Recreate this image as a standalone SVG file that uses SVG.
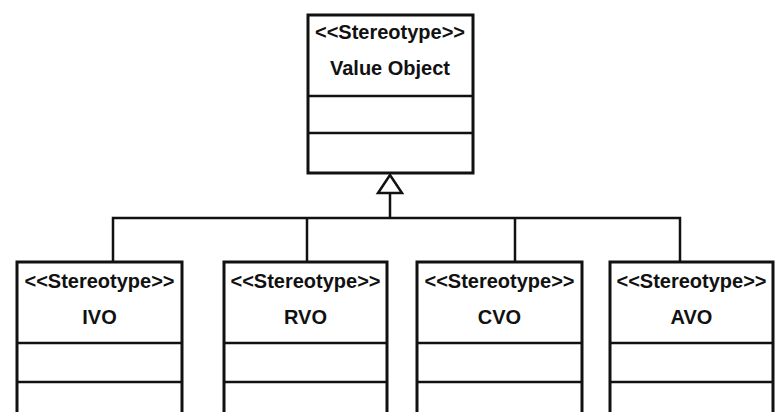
<svg xmlns="http://www.w3.org/2000/svg" width="783" height="412" viewBox="0 0 783 412">
<style>
.box{fill:#fff;stroke:#111;stroke-width:3}
.div{stroke:#111;stroke-width:2.5}
.conn{fill:none;stroke:#111;stroke-width:2.5}
.tri{fill:#fff;stroke:#111;stroke-width:2.5;stroke-linejoin:miter}
text{font-family:"Liberation Sans",Arial,sans-serif;font-weight:bold;font-size:20px;fill:#111;text-anchor:middle}
</style>
<rect width="783" height="412" fill="#fff"/>
<g id="connectors">
<path class="conn" d="M390,193 V218 M113,262 V218 H680 V262 M307,218 V262 M515,218 V262"/>
<polygon class="tri" points="390,175 378,193 402,193"/>
</g>
<g id="value-object">
<rect class="box" x="308" y="15" width="165" height="158"/>
<line class="div" x1="308" y1="96" x2="473" y2="96"/>
<line class="div" x1="308" y1="133" x2="473" y2="133"/>
<text x="390" y="39">&lt;&lt;Stereotype&gt;&gt;</text>
<text x="390" y="75">Value Object</text>
</g>
<g id="ivo">
<rect class="box" x="17" y="262" width="165" height="160"/>
<line class="div" x1="17" y1="343" x2="182" y2="343"/>
<line class="div" x1="17" y1="382" x2="182" y2="382"/>
<text x="99.5" y="288">&lt;&lt;Stereotype&gt;&gt;</text>
<text x="99.5" y="324">IVO</text>
</g>
<g id="rvo">
<rect class="box" x="224" y="262" width="163" height="160"/>
<line class="div" x1="224" y1="343" x2="387" y2="343"/>
<line class="div" x1="224" y1="382" x2="387" y2="382"/>
<text x="305.5" y="288">&lt;&lt;Stereotype&gt;&gt;</text>
<text x="305.5" y="324">RVO</text>
</g>
<g id="cvo">
<rect class="box" x="417" y="262" width="165" height="160"/>
<line class="div" x1="417" y1="343" x2="582" y2="343"/>
<line class="div" x1="417" y1="382" x2="582" y2="382"/>
<text x="499.5" y="288">&lt;&lt;Stereotype&gt;&gt;</text>
<text x="499.5" y="324">CVO</text>
</g>
<g id="avo">
<rect class="box" x="610" y="262" width="163" height="160"/>
<line class="div" x1="610" y1="343" x2="773" y2="343"/>
<line class="div" x1="610" y1="382" x2="773" y2="382"/>
<text x="691.5" y="288">&lt;&lt;Stereotype&gt;&gt;</text>
<text x="691.5" y="324">AVO</text>
</g>
</svg>
